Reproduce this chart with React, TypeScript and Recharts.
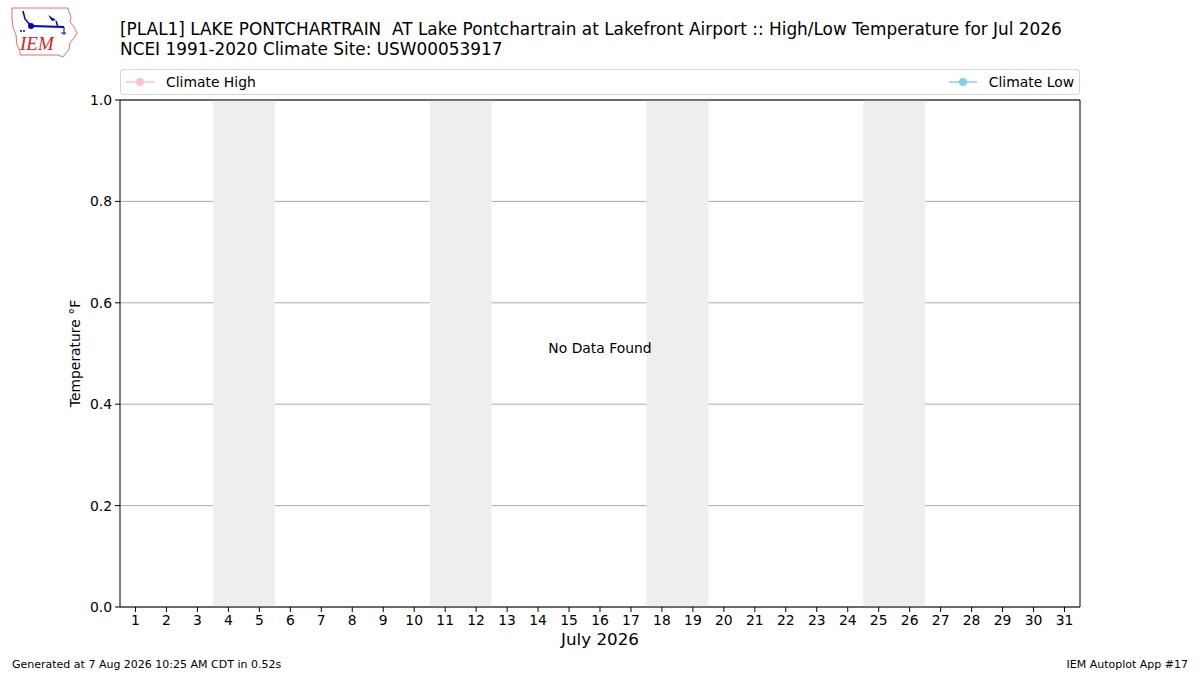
import React from 'react';
import { ComposedChart, Line, XAxis, YAxis, CartesianGrid, ReferenceArea, Label } from 'recharts';

// July 2026 days, no observations available
const days = Array.from({ length: 31 }, (_, i) => i + 1);
const climateHigh: (number | null)[] = days.map(() => null);
const climateLow: (number | null)[] = days.map(() => null);
const weekends = [[4, 5], [11, 12], [18, 19], [25, 26]];
const yTicks = [0, 0.2, 0.4, 0.6, 0.8, 1.0];

const series = [
    { key: 'high', name: 'Climate High', color: '#ffc0cb' },
    { key: 'low', name: 'Climate Low', color: '#87ceeb' },
];

const FONT = '"DejaVu Sans", sans-serif';

const chartData = days.map((d, i) => ({ day: d, high: climateHigh[i], low: climateLow[i] }));

const Logo: React.FC = () => (
    <svg width={72} height={54} style={{ position: 'absolute', left: 8, top: 5 }}>
        <path
            d="M4 3 L60 3 L61 7 L63 12 L62 17 L66 22 L69 28 L66 33 L62 38 L61 44 L58 48 L55 52 L50 50 L12 50 L12 46 L9 40 L8 30 L5 22 L4 14 Z"
            fill="none"
            stroke="#e07070"
            strokeWidth={1}
        />
        <line x1={23} y1={21} x2={56} y2={22} stroke="#0000cc" strokeWidth={2} />
        <circle cx={23} cy={21} r={3} fill="#0000cc" />
        <path d="M15 6 L17 14 L23 21" fill="none" stroke="#0000cc" strokeWidth={1.5} />
        <path d="M40 10 L48 15 L44 16 Z" fill="#0000cc" />
        <path d="M48 16 L50 22" stroke="#0000cc" strokeWidth={1.5} />
        <path d="M56 22 L56 30 M53 28 L58 28" stroke="#0000cc" strokeWidth={1} />
        <circle cx={13} cy={26} r={1} fill="#0000cc" />
        <circle cx={16} cy={26} r={1} fill="#0000cc" />
        <text x={12} y={45} fill="#dd2222" fontSize={19} fontStyle="italic" fontFamily="Liberation Serif, serif">IEM</text>
    </svg>
);

const App: React.FC = () => {
    return (
        <div style={{ position: 'absolute', left: 0, top: 0, width: 1200, height: 675, background: '#fff', fontFamily: FONT }}>
            <Logo />
            <div style={{ position: 'absolute', left: 120, top: 19, fontSize: 16.9, lineHeight: '20px', whiteSpace: 'pre', color: '#000' }}>
                {'[PLAL1] LAKE PONTCHARTRAIN  AT Lake Pontchartrain at Lakefront Airport :: High/Low Temperature for Jul 2026'}
                <br />
                {'NCEI 1991-2020 Climate Site: USW00053917'}
            </div>

            {/* legend box */}
            <div
                style={{
                    position: 'absolute', left: 120, top: 69, width: 960, height: 26,
                    border: '1px solid #d6d6d6', borderRadius: 3, fontSize: 13.9,
                    display: 'flex', justifyContent: 'space-between', alignItems: 'center', padding: '0 5px 0 5px', boxSizing: 'border-box',
                }}
            >
                {series.map((s) => (
                    <div key={s.key} style={{ display: 'flex', alignItems: 'center' }}>
                        <svg width={28} height={10} style={{ marginRight: 12 }}>
                            <line x1={0} y1={5} x2={28} y2={5} stroke={s.color} strokeWidth={1.5} />
                            <circle cx={14} cy={5} r={4} fill={s.color} />
                        </svg>
                        <span>{s.name}</span>
                    </div>
                ))}
            </div>

            <ComposedChart
                width={1200}
                height={675}
                data={chartData}
                margin={{ top: 100, right: 120, bottom: 38, left: 60 }}
                style={{ position: 'absolute', left: 0, top: 0 }}
            >
                {weekends.map(([a, b]) => (
                    <ReferenceArea key={a} x1={a - 0.5} x2={b + 0.5} y1={0} y2={1} fill="#eeeeee" fillOpacity={1} stroke="none" ifOverflow="visible" />
                ))}
                <CartesianGrid vertical={false} stroke="#aaaaaa" strokeWidth={1} />
                <XAxis
                    dataKey="day"
                    type="number"
                    domain={[0.5, 31.5]}
                    allowDataOverflow
                    ticks={days}
                    interval={0}
                    height={30}
                    tickSize={5}
                    tickMargin={3}
                    axisLine={false}
                    tickLine={{ stroke: '#000' }}
                    tick={{ fill: '#000', fontSize: 13.9, fontFamily: FONT }}
                >
                    <Label value="July 2026" position="insideBottom" offset={-8} fill="#000" fontSize={16.7} fontFamily={FONT} />
                </XAxis>
                <YAxis
                    type="number"
                    domain={[0, 1]}
                    allowDataOverflow
                    ticks={yTicks}
                    interval={0}
                    width={60}
                    tickSize={5}
                    tickMargin={3}
                    axisLine={false}
                    tickLine={{ stroke: '#000' }}
                    tickFormatter={(v: number) => v.toFixed(1)}
                    tick={{ fill: '#000', fontSize: 13.9, fontFamily: FONT }}
                >
                    <Label value="Temperature °F" angle={-90} position="insideLeft" offset={15} fill="#000" fontSize={13.9} fontFamily={FONT} style={{ textAnchor: 'middle' }} />
                </YAxis>
                {series.map((s) => (
                    <Line
                        key={s.key}
                        dataKey={s.key}
                        name={s.name}
                        stroke={s.color}
                        dot={{ r: 4, fill: s.color }}
                        isAnimationActive={false}
                        connectNulls={false}
                    />
                ))}
                <ReferenceArea x1={0.5} x2={31.5} y1={0} y2={1} fill="none" stroke="#000" strokeWidth={1} ifOverflow="visible">
                    <Label value="No Data Found" position="center" dy={-5} fill="#000" fontSize={13.9} fontFamily={FONT} />
                </ReferenceArea>
            </ComposedChart>

            <div style={{ position: 'absolute', left: 12, top: 658, fontSize: 11 }}>Generated at 7 Aug 2026 10:25 AM CDT in 0.52s</div>
            <div style={{ position: 'absolute', right: 12, top: 658, fontSize: 11 }}>IEM Autoplot App #17</div>
        </div>
    );
};

export default App;
